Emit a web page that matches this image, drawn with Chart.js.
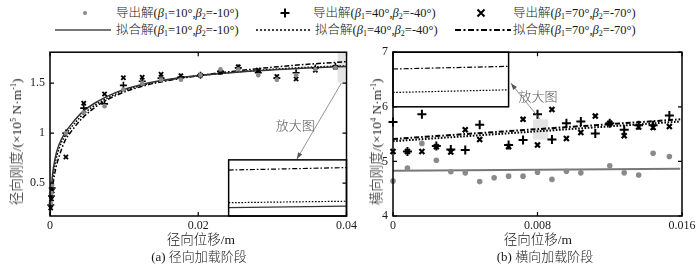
<!DOCTYPE html>
<html>
<head>
<meta charset="utf-8">
<script src="https://cdn.jsdelivr.net/npm/chart.js@4.4.1/dist/chart.umd.min.js"></script>
<style>
  body { margin: 0; width: 700px; height: 264px; background: #fff; position: relative; overflow: hidden;
         font-family: 'Liberation Serif', 'Noto Sans CJK SC', serif; font-weight: 300; color: #1a1a1a; }
  .abs { position: absolute; }
  .txt { position: absolute; white-space: nowrap; font-size: 12.5px; line-height: 14px; transform: translateY(-50%); }
  .txt sub { font-size: 8px; vertical-align: -2px; line-height: 0; }
  .ytitle { position: absolute; white-space: nowrap; font-size: 13.5px; transform: translate(-50%, -50%) rotate(-90deg); }
  .cap { position: absolute; white-space: nowrap; font-size: 13px; transform: translate(-50%, -50%); }
</style>
</head>
<body>
<div id="legend"></div>
<canvas id="chartA" class="abs" width="360" height="224" style="left:0;top:40px"></canvas>
<canvas id="chartB" class="abs" width="340" height="224" style="left:360px;top:40px"></canvas>
<div class="ytitle" style="left:15px;top:142px">径向刚度/(×10<sup style="font-size:8px">5</sup> N·m<sup style="font-size:8px">-1</sup>)</div>
<div class="ytitle" style="left:375px;top:142px">横向刚度/(×10<sup style="font-size:8px">4</sup> N·m<sup style="font-size:8px">-1</sup>)</div>
<div class="cap" style="left:201px;top:238px;font-size:13.5px">径向位移/m</div>
<div class="cap" style="left:538px;top:238px;font-size:13.5px">径向位移/m</div>
<div class="cap" style="left:199px;top:255px">(a) 径向加载阶段</div>
<div class="cap" style="left:545px;top:255px">(b) 横向加载阶段</div>
<script>
// ---- (a) radial loading stage ----
const xA = [0.0001, 0.0002, 0.0003, 0.00214, 0.00455, 0.00736, 0.0099, 0.01244, 0.01498, 0.01766, 0.0203, 0.023, 0.0254, 0.0281, 0.0306, 0.0332, 0.0358, 0.0385]
const dotA = [0.30, 0.40, 0.48, 1.0, 1.207, 1.27, 1.437, 1.50, 1.535, 1.535, 1.58, 1.638, 1.64, 1.58, 1.535, 1.58, 1.64, 1.655]
const plusA = [0.28, 0.37, 0.45, 1.0, 1.25, 1.293, 1.478, 1.519, 1.55, 1.56, 1.58, 1.62, 1.653, 1.605, 1.55, 1.605, 1.653, 1.67]
const crossA = [0.25, 0.34, 0.42, 0.761, 1.30, 1.392, 1.555, 1.56, 1.59, 1.574, 1.58, 1.61, 1.663, 1.631, 1.567, 1.542, 1.63, 1.66]
const fitXA = [0, 0.0003, 0.0007, 0.0012, 0.002, 0.003, 0.0045, 0.0065, 0.009, 0.0125, 0.017, 0.022, 0.028, 0.034, 0.04]
const fit10A = [0.2, 0.55, 0.75, 0.88, 1.0, 1.1, 1.22, 1.32, 1.41, 1.49, 1.55, 1.59, 1.625, 1.65, 1.668]
const fit40A = [0.18, 0.5, 0.7, 0.84, 0.97, 1.07, 1.19, 1.3, 1.395, 1.48, 1.545, 1.59, 1.628, 1.656, 1.674]
const fit70A = [0.17, 0.42, 0.62, 0.76, 0.92, 1.03, 1.16, 1.28, 1.38, 1.47, 1.54, 1.595, 1.645, 1.685, 1.715]
const xTicksA = [0, 0.02, 0.04]
const yTicksA = [0.5, 1, 1.5]

// ---- (b) lateral loading stage ----
const xB = [0, 0.0008, 0.0016, 0.0024, 0.0032, 0.004, 0.0048, 0.0056, 0.0064, 0.0072, 0.008, 0.0088, 0.0096, 0.0104, 0.0112, 0.012, 0.0128, 0.0136, 0.0144, 0.0153]
const dotB = [4.64, 4.88, 5.33, 5.02, 4.81, 4.79, 4.63, 4.70, 4.73, 4.73, 4.80, 4.67, 4.82, 4.79, null, 4.92, 4.79, 4.75, 5.15, 5.09]
const plusB = [5.72, 5.18, 5.865, 5.28, 5.22, 5.21, 5.67, null, 5.30, 5.39, 5.865, 5.40, 5.70, 5.73, 5.51, 5.70, 5.58, 5.66, 5.66, 5.84]
const crossB = [5.18, 5.18, 5.18, 5.27, 5.17, 5.58, 5.40, null, 5.27, 5.77, 5.30, 5.95, 5.42, 5.53, 5.83, 5.70, 5.47, 5.63, 5.62, 5.64]
const fitXB = [0, 0.0159]
const fit10B = [4.83, 4.865]
const fit40B = [5.37, 5.73]
const fit70B = [5.41, 5.77]
const xTicksB = [0, 0.008, 0.016]
const yTicksB = [4, 5, 6, 7]

const FONT = "'Liberation Serif', 'Noto Sans CJK SC', serif"
const pts = (xs, ys) => xs.map((x, i) => ({ x, y: ys[i] })).filter(p => p.y !== null)

// legend (HTML)
const legendRows = [
  { kind: 'dot', x: 85, tx: 116, b: [10, -10], label: '导出解' },
  { kind: 'plus', x: 285, tx: 313, b: [40, -40], label: '导出解' },
  { kind: 'cross', x: 481, tx: 513, b: [70, -70], label: '导出解' },
  { kind: 'solid', x: 55, tx: 116, b: [10, -10], label: '拟合解' },
  { kind: 'dot2', x: 256, tx: 315, b: [40, -40], label: '拟合解' },
  { kind: 'dash', x: 455, tx: 513, b: [70, -70], label: '拟合解' }
]
let lg = ''
legendRows.forEach((r, i) => {
  const yy = i < 3 ? 13 : 30
  const svgs = {
    dot: `<svg class="abs" style="left:${r.x - 4}px;top:${yy - 4}px" width="8" height="8"><circle cx="4" cy="4" r="2" fill="#888"/></svg>`,
    plus: `<svg class="abs" style="left:${r.x - 5}px;top:${yy - 5}px" width="10" height="10"><path d="M5 0.5V9.5M0.5 5H9.5" stroke="#000" stroke-width="2"/></svg>`,
    cross: `<svg class="abs" style="left:${r.x - 5}px;top:${yy - 5}px" width="10" height="10"><path d="M1.5 1.5L8.5 8.5M8.5 1.5L1.5 8.5" stroke="#000" stroke-width="2"/></svg>`,
    solid: `<svg class="abs" style="left:${r.x}px;top:${yy - 3}px" width="56" height="6"><path d="M0 3H56" stroke="#777" stroke-width="2"/></svg>`,
    dot2: `<svg class="abs" style="left:${r.x}px;top:${yy - 3}px" width="56" height="6"><path d="M0 3H56" stroke="#000" stroke-width="1.5" stroke-dasharray="2 2"/></svg>`,
    dash: `<svg class="abs" style="left:${r.x}px;top:${yy - 3}px" width="56" height="6"><path d="M0 3H56" stroke="#000" stroke-width="2" stroke-dasharray="6 2.5 2 2.5"/></svg>`
  }
  lg += svgs[r.kind]
  lg += `<div class="txt" style="left:${r.tx}px;top:${yy}px">${r.label}(<i>β</i><sub>1</sub>=${r.b[0]}°,<i>β</i><sub>2</sub>=${r.b[1]}°)</div>`
})
document.getElementById('legend').innerHTML = lg

function valueAt (data, v) {
  for (let i = 1; i < data.length; i++) {
    if (v <= data[i].x) {
      const a = data[i - 1], b = data[i]
      return a.y + (b.y - a.y) * (v - a.x) / (b.x - a.x)
    }
  }
  return data[data.length - 1].y
}

const boxPlugin = {
  id: 'box',
  beforeDatasetsDraw (chart, args, o) {
    const { ctx, scales: { x, y } } = chart
    const h = o.highlight
    const l = x.getPixelForValue(h[0]), r = x.getPixelForValue(h[1])
    const t = y.getPixelForValue(h[3]), b = y.getPixelForValue(h[2])
    ctx.save()
    ctx.fillStyle = '#e4e4e4'
    ctx.fillRect(l, t, r - l, b - t)
    ctx.restore()
  },
  afterDatasetsDraw (chart, args, o) {
    const { ctx, chartArea: a, scales: { x, y } } = chart
    ctx.save()
    // zoom-in inset
    const ins = o.inset
    const bl = x.getPixelForValue(ins.box[0]), br = x.getPixelForValue(ins.box[1])
    const bt = y.getPixelForValue(ins.box[3]), bb = y.getPixelForValue(ins.box[2])
    ctx.fillStyle = '#fff'
    ctx.fillRect(bl, bt, br - bl, bb - bt)
    ctx.save()
    ctx.beginPath()
    ctx.rect(bl, bt, br - bl, bb - bt)
    ctx.clip()
    const s = ins.src
    const px = v => bl + (v - s[0]) / (s[1] - s[0]) * (br - bl)
    const py = v => bb - (v - s[2]) / (s[3] - s[2]) * (bb - bt)
    chart.data.datasets.forEach(ds => {
      if (!ds.fit) return
      ctx.strokeStyle = ds.borderColor
      ctx.lineWidth = 1.2
      ctx.setLineDash(ds.borderDash || [])
      ctx.beginPath()
      ctx.moveTo(px(s[0]), py(valueAt(ds.data, s[0])))
      ctx.lineTo(px(s[1]), py(valueAt(ds.data, s[1])))
      ctx.stroke()
    })
    ctx.restore()
    ctx.setLineDash([])
    ctx.strokeStyle = '#000'
    ctx.lineWidth = 1.5
    ctx.strokeRect(bl, bt, br - bl, bb - bt)

    // arrow + label
    const ar = o.arrow
    const x1 = x.getPixelForValue(ar[0]), y1 = y.getPixelForValue(ar[1])
    const x2 = x.getPixelForValue(ar[2]), y2 = y.getPixelForValue(ar[3])
    ctx.strokeStyle = '#777'
    ctx.fillStyle = '#555'
    ctx.lineWidth = 0.8
    ctx.beginPath()
    ctx.moveTo(x1, y1)
    ctx.lineTo(x2, y2)
    ctx.stroke()
    const ang = Math.atan2(y2 - y1, x2 - x1)
    ctx.beginPath()
    ctx.moveTo(x2, y2)
    ctx.lineTo(x2 - 7 * Math.cos(ang - 0.35), y2 - 7 * Math.sin(ang - 0.35))
    ctx.lineTo(x2 - 7 * Math.cos(ang + 0.35), y2 - 7 * Math.sin(ang + 0.35))
    ctx.closePath()
    ctx.fill()
    ctx.fillStyle = '#555'
    ctx.font = "300 13px 'Noto Sans CJK SC'"
    ctx.textAlign = 'center'
    ctx.textBaseline = 'middle'
    ctx.fillText('放大图', x.getPixelForValue(o.label[0]), y.getPixelForValue(o.label[1]))

    // frame with inward ticks
    ctx.strokeStyle = '#000'
    ctx.lineWidth = 1.5
    ctx.strokeRect(a.left, a.top, a.right - a.left, a.bottom - a.top)
    ctx.lineWidth = 1.2
    ctx.beginPath()
    x.ticks.forEach(t => {
      const p = x.getPixelForValue(t.value)
      ctx.moveTo(p, a.bottom); ctx.lineTo(p, a.bottom - 4)
      ctx.moveTo(p, a.top); ctx.lineTo(p, a.top + 4)
    })
    y.ticks.forEach(t => {
      const p = y.getPixelForValue(t.value)
      ctx.moveTo(a.left, p); ctx.lineTo(a.left + 4, p)
      ctx.moveTo(a.right, p); ctx.lineTo(a.right - 4, p)
    })
    ctx.stroke()
    ctx.restore()
  }
}

function makeChart (id, cfg) {
  const fitStyle = [
    { color: cfg.solidColor, dash: [], w: cfg.solidWidth },
    { color: '#000', dash: [1.6, 1.6], w: cfg.lineWidth },
    { color: '#000', dash: [5, 2, 1.6, 2], w: cfg.lineWidth }
  ]
  const datasets = [
    { data: pts(cfg.xs, cfg.dot), pointStyle: 'circle', pointRadius: cfg.dotR, backgroundColor: '#8a8a8a', borderWidth: 0, clip: false },
    { data: pts(cfg.xs, cfg.plus), pointStyle: 'cross', pointRadius: cfg.plusR, borderColor: '#000', borderWidth: cfg.markW, clip: false },
    { data: pts(cfg.xs, cfg.cross), pointStyle: 'crossRot', pointRadius: cfg.crossR, borderColor: '#000', borderWidth: cfg.markW + 0.2, clip: false }
  ]
  cfg.fits.forEach((f, i) => {
    datasets.push({
      fit: true,
      data: pts(cfg.fitX, f),
      showLine: true,
      pointRadius: 0,
      borderColor: fitStyle[i].color,
      borderWidth: fitStyle[i].w,
      borderDash: fitStyle[i].dash,
      cubicInterpolationMode: 'monotone'
    })
  })
  const tickFont = { family: FONT, size: 12 }
  return new Chart(document.getElementById(id), {
    type: 'scatter',
    data: { datasets },
    plugins: [boxPlugin],
    options: {
      responsive: false,
      animation: false,
      devicePixelRatio: 1,
      layout: { padding: cfg.padding },
      plugins: {
        legend: { display: false },
        tooltip: { enabled: false },
        box: { highlight: cfg.highlight, inset: cfg.inset, arrow: cfg.arrow, label: cfg.label }
      },
      scales: {
        x: {
          type: 'linear', min: cfg.xRange[0], max: cfg.xRange[1],
          grid: { display: false, drawTicks: false },
          border: { display: false },
          afterBuildTicks: s => { s.ticks = cfg.xTicks.map(v => ({ value: v })) },
          afterFit: s => { s.height = 48 },
          ticks: { font: tickFont, color: '#1a1a1a', padding: 3, maxRotation: 0, callback: v => String(v) }
        },
        y: {
          type: 'linear', min: cfg.yRange[0], max: cfg.yRange[1],
          grid: { display: false, drawTicks: false },
          border: { display: false },
          afterBuildTicks: s => { s.ticks = cfg.yTicks.map(v => ({ value: v })) },
          afterFit: s => { s.width = cfg.yWidth },
          ticks: { font: tickFont, color: '#1a1a1a', padding: 5, callback: v => String(v) }
        }
      }
    }
  })
}

makeChart('chartA', {
  xs: xA, dot: dotA, plus: plusA, cross: crossA,
  fitX: fitXA, fits: [fit10A, fit40A, fit70A],
  solidColor: '#333', solidWidth: 1.5, lineWidth: 1.5, dotR: 2.3, plusR: 3.5, crossR: 3, markW: 1.6,
  xRange: [0, 0.04], yRange: [0.17, 1.81], xTicks: xTicksA, yTicks: yTicksA,
  padding: { top: 5, right: 11, left: 0, bottom: 0 }, yWidth: 50,
  highlight: [0.0388, 0.0398, 1.506, 1.81],
  inset: { box: [0.0241, 0.04, 0.17, 0.732], src: [0.0394, 0.04, 1.656, 1.7244] },
  arrow: [0.0393, 1.50, 0.0333, 0.74],
  label: [0.0331, 1.08]
})

makeChart('chartB', {
  xs: xB, dot: dotB, plus: plusB, cross: crossB,
  fitX: fitXB, fits: [fit10B, fit40B, fit70B],
  solidColor: '#777', solidWidth: 2, lineWidth: 2, dotR: 2.8, plusR: 4.5, crossR: 3.5, markW: 2,
  xRange: [0, 0.016], yRange: [4, 7], xTicks: xTicksB, yTicks: yTicksB,
  padding: { top: 7, right: 18, left: 0, bottom: 0 }, yWidth: 33,
  highlight: [0.00775, 0.0086, 5.40, 5.77],
  inset: { box: [0, 0.0064, 6.0, 7], src: [0.0081, 0.0083, 5.529, 5.622] },
  arrow: [0.00814, 5.772, 0.00653, 6.43],
  label: [0.00803, 6.2]
})
</script>
</body>
</html>
